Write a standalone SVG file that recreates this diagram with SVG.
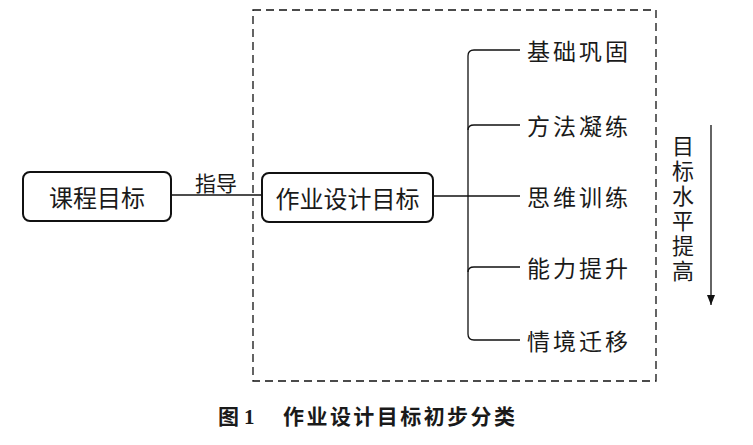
<svg xmlns="http://www.w3.org/2000/svg" width="753" height="445" viewBox="0 0 753 445">
<style>
.t{font-family:"Noto Sans CJK SC","Noto Sans",sans-serif;fill:#1a1a1a;font-size:23px;dominant-baseline:central}
.n{fill:#fff;stroke:#111;stroke-width:2}
.c{fill:none;stroke:#111;stroke-width:1.3}
</style>
<defs>
<marker id="ah" viewBox="0 0 10 10" refX="10" refY="5" markerWidth="10" markerHeight="10" markerUnits="userSpaceOnUse" orient="auto">
<path d="M0,1 L10,5 L0,9 Z" fill="#111"/>
</marker>
</defs>
<rect x="253" y="10" width="403" height="371" fill="none" stroke="#111" stroke-width="1.3" stroke-dasharray="8,5"/>
<g id="connectors">
<line class="c" x1="172" y1="195" x2="262" y2="195"/>
<text class="t" x="216" y="182" text-anchor="middle" style="font-size:21px">指导</text>
<line class="c" x1="433" y1="196" x2="520" y2="196"/>
<path class="c" d="M520,50 H474 Q468,50 468,56 V334 Q468,340 474,340 H520"/>
<path class="c" d="M468,130 Q468,125 474,125 H520"/>
<path class="c" d="M468,272 Q468,267 474,267 H520"/>
<line class="c" x1="711" y1="125" x2="711" y2="305" marker-end="url(#ah)"/>
</g>
<g id="n1">
<rect class="n" x="23" y="172" width="148" height="49" rx="7"/>
<text class="t" x="97" y="196" text-anchor="middle" style="font-size:24px">课程目标</text>
</g>
<g id="n2">
<rect class="n" x="262" y="173" width="171" height="49" rx="7"/>
<text class="t" x="347.5" y="197" text-anchor="middle" style="font-size:24px">作业设计目标</text>
</g>
<g id="b1"><text class="t" x="527" y="50" textLength="101">基础巩固</text></g>
<g id="b2"><text class="t" x="527" y="125" textLength="101">方法凝练</text></g>
<g id="b3"><text class="t" x="527" y="196" textLength="101">思维训练</text></g>
<g id="b4"><text class="t" x="527" y="267" textLength="101">能力提升</text></g>
<g id="b5"><text class="t" x="527" y="340" textLength="101">情境迁移</text></g>
<g id="side">
<text x="683" y="135" writing-mode="vertical-rl" style="font-family:'Noto Sans CJK SC','Noto Sans',sans-serif;font-size:22px;letter-spacing:3px;fill:#1a1a1a">目标水平提高</text>
</g>
<text x="218" y="424" style="font-family:'Noto Sans CJK SC','Noto Sans',sans-serif;font-size:21px;font-weight:bold;fill:#1a1a1a">图</text>
<text x="244" y="424" style="font-family:'Liberation Serif',serif;font-size:21px;font-weight:bold;fill:#1a1a1a">1</text>
<text x="283" y="424" textLength="232" style="font-family:'Noto Sans CJK SC','Noto Sans',sans-serif;font-size:21px;font-weight:bold;fill:#1a1a1a">作业设计目标初步分类</text>
</svg>
